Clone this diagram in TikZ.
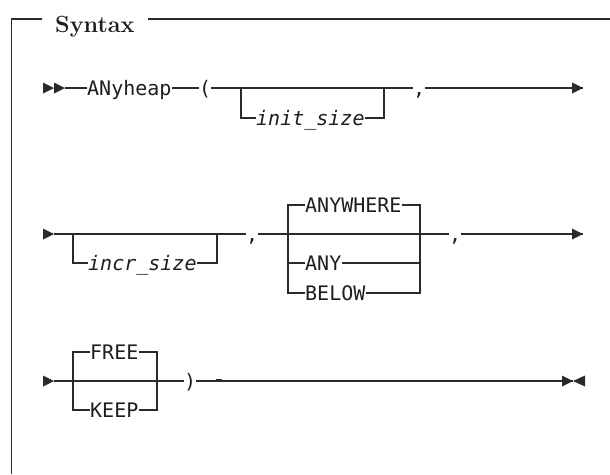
\documentclass[tikz,border=0pt]{standalone}
\usepackage{fontspec}
\newfontfamily\railfont{DejaVu Sans Mono}
\definecolor{ink}{HTML}{1E1E1E}
\definecolor{railgray}{HTML}{2A2A2A}
\tikzset{
  rail/.style={line width=1.3pt, draw=railgray},
  framerule/.style={line width=1.5pt, draw=railgray},
  kw/.style={font=\railfont\fontsize{20}{24}\selectfont, text=ink, inner sep=0pt,
             text height=14.6pt, text depth=0pt, anchor=west},
  var/.style={kw, font=\railfont\itshape\fontsize{20}{24}\selectfont},
  tip/.style={fill=railgray, draw=none},
}
\begin{document}
\begin{tikzpicture}[x=1pt,y=-1pt]
\useasboundingbox (0,0) rectangle (610,474);

% frame with its title
\coordinate (ftop) at (0,19);
\node[anchor=base west, inner xsep=13pt, inner ysep=0pt, text=ink,
      font=\fontsize{23.4}{28}\selectfont\bfseries] (title) at (42,32) {Syntax};
\draw[framerule] (title.west |- ftop) -- (11.5,19) -- (11.5,474);
\draw[framerule] (title.east |- ftop) -- (610,19);

% ---- first line: ANyheap ( [init_size] ,
\coordinate (r1s) at (65,88);
\node[kw] (anyheap) at (87,88) {ANyheap};
\node[kw] (lpar) at (199,88) {(};
\coordinate (b1l) at (241,88);
\coordinate (b1r) at (384,88);
\node[var] (init) at (256,118) {init\_size};
\node[kw] (c1) at (413,88) {,};
\coordinate (r1e) at (583,88);

\fill[tip] (43,82.5) -- (54,88) -- (43,93.5) -- cycle;
\fill[tip] (54,82.5) -- (65,88) -- (54,93.5) -- cycle;
\draw[rail] (r1s) -- (anyheap.west);
\draw[rail] (anyheap.east) -- (lpar.west);
\draw[rail] (lpar.east) -- (c1.west);
\draw[rail] (b1l) |- (init.west);
\draw[rail] (init.east) -| (b1r);
\draw[rail] (c1.east) -- (r1e);
\fill[tip] (r1e) -- ++(-11,-5.5) -- ++(0,11) -- cycle;

% ---- second line: [incr_size] , ANYWHERE|ANY|BELOW ,
\coordinate (r2s) at (54,234);
\node[var] (incr) at (88,263) {incr\_size};
\coordinate (b2l) at (73,234);
\coordinate (b2r) at (217,234);
\node[kw] (c2) at (246,234) {,};
\coordinate (chl) at (288,234);
\coordinate (chr) at (420,234);
\node[kw] (anywhere) at (305,205) {ANYWHERE};
\node[kw] (any) at (305,263) {ANY};
\node[kw] (below) at (305,293) {BELOW};
\node[kw] (c3) at (449,234) {,};
\coordinate (r2e) at (583,234);

\fill[tip] (43,228.5) -- (54,234) -- (43,239.5) -- cycle;
\draw[rail] (r2s) -- (c2.west);
\draw[rail] (b2l) |- (incr.west);
\draw[rail] (incr.east) -| (b2r);
\draw[rail] (c2.east) -- (c3.west);
\draw[rail] (anywhere.west) -- (anywhere.west -| chl) |- (below.west);
\draw[rail] (any.west -| chl) -- (any.west);
\draw[rail] (anywhere.east) -| (below.east -| chr) -- (below.east);
\draw[rail] (any.east) -- (any.east -| chr);
\draw[rail] (c3.east) -- (r2e);
\fill[tip] (r2e) -- ++(-11,-5.5) -- ++(0,11) -- cycle;

% ---- third line: FREE|KEEP )
\coordinate (r3s) at (54,381);
\node[kw] (free) at (90,352) {FREE};
\node[kw] (keep) at (90,410) {KEEP};
\coordinate (b3l) at (73,381);
\coordinate (b3r) at (157,381);
\node[kw] (rpar) at (184,381) {)};
\coordinate (r3e) at (573,381);

\fill[tip] (43,375.5) -- (54,381) -- (43,386.5) -- cycle;
\draw[rail] (r3s) -- (rpar.west);
\draw[rail] (free.west) -- (free.west -| b3l) |- (keep.west);
\draw[rail] (free.east) -| (keep.east -| b3r) -- (keep.east);
\draw[rail] (rpar.east) -- (r3e);
\draw[line width=1.6pt, draw=railgray] (216,380) -- (222,380);
\fill[tip] (r3e) -- ++(-11,-5.5) -- ++(0,11) -- cycle;
\fill[tip] (r3e) -- ++(12,-5.5) -- ++(0,11) -- cycle;
\end{tikzpicture}
\end{document}
